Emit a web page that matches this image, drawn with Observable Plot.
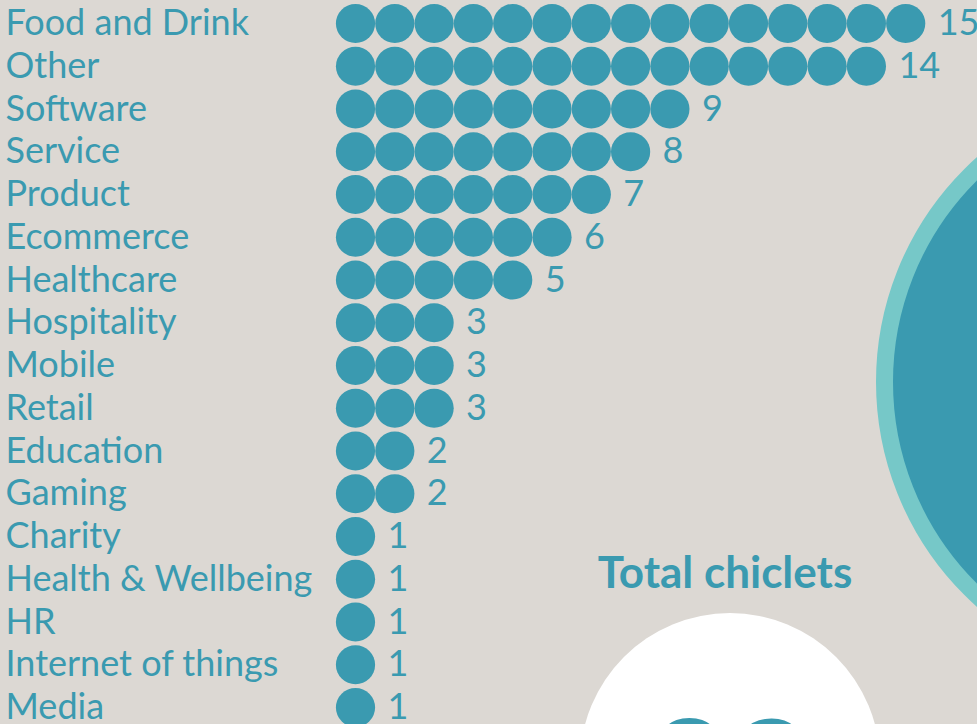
<!DOCTYPE html>
<html>
<head>
<meta charset="utf-8">
<script src="https://cdn.jsdelivr.net/npm/d3@7"></script>
<script src="https://cdn.jsdelivr.net/npm/@observablehq/plot@0.6"></script>
<style>
  html, body { margin: 0; padding: 0; background: #dcd8d3; }
  #wrap { position: relative; width: 977px; height: 724px; overflow: hidden; background: #dcd8d3; font-family: Lato, "Open Sans", sans-serif; }
  .deco { position: absolute; border-radius: 50%; box-sizing: border-box; }
  #bigCircle { left: 876px; top: 81px; width: 602px; height: 602px; background: #3a9ab0; border: 17px solid #76c8c8; }
  #whiteCircle { left: 580px; top: 613px; width: 300px; height: 300px; background: #ffffff; }
  #title { position: absolute; left: 525px; width: 400px; top: 549px; line-height: 1; text-align: center; font-weight: 700; font-size: 44px; color: #3a9ab0; }
  #total { position: absolute; left: 580px; width: 300px; top: 697px; text-align: center; font-weight: 700; font-size: 140px; line-height: 1; color: #3a9ab0; }
  #chart { position: absolute; left: 0; top: 0; }
  #chart svg { background: transparent; }
</style>
</head>
<body>
<div id="wrap">
  <div class="deco" id="bigCircle"></div>
  <div class="deco" id="whiteCircle"></div>
  <div id="title">Total chiclets</div>
  <div id="total"></div>
  <div id="chart"></div>
</div>
<script>
const categories = ["Food and Drink", "Other", "Software", "Service", "Product", "Ecommerce", "Healthcare", "Hospitality", "Mobile", "Retail", "Education", "Gaming", "Charity", "Health & Wellbeing", "HR", "Internet of things", "Media"];
const counts = [15, 14, 9, 8, 7, 6, 5, 3, 3, 3, 2, 2, 1, 1, 1, 1, 1];

const teal = "#3a9ab0";
const rows = categories.map((c, k) => ({cat: c, value: counts[k]}));
const dots = rows.flatMap(r => d3.range(r.value).map(i => ({cat: r.cat, i})));
const total = d3.sum(counts);

const chart = Plot.plot({
  width: 977,
  height: 724,
  margin: 0,
  style: {background: "transparent", fontFamily: "Lato, 'Open Sans', sans-serif"},
  x: {type: "linear", domain: [0, 1], range: [355, 394.3], axis: null},
  y: {type: "point", domain: categories, range: [23, 707], padding: 0, round: false, axis: null},
  marks: [
    Plot.dot(dots, {x: "i", y: "cat", r: 19.6, fill: teal, stroke: "none"}),
    Plot.text(rows, {y: "cat", text: "cat", frameAnchor: "left", dx: 5, textAnchor: "start", fontSize: 36, fontWeight: 400, fill: teal}),
    Plot.text(rows, {x: d => d.value - 1, y: "cat", text: d => String(d.value), dx: 32, textAnchor: "start", fontSize: 36, fontWeight: 400, fill: teal})
  ]
});
document.getElementById("chart").appendChild(chart);
document.getElementById("total").textContent = total;
</script>
</body>
</html>
